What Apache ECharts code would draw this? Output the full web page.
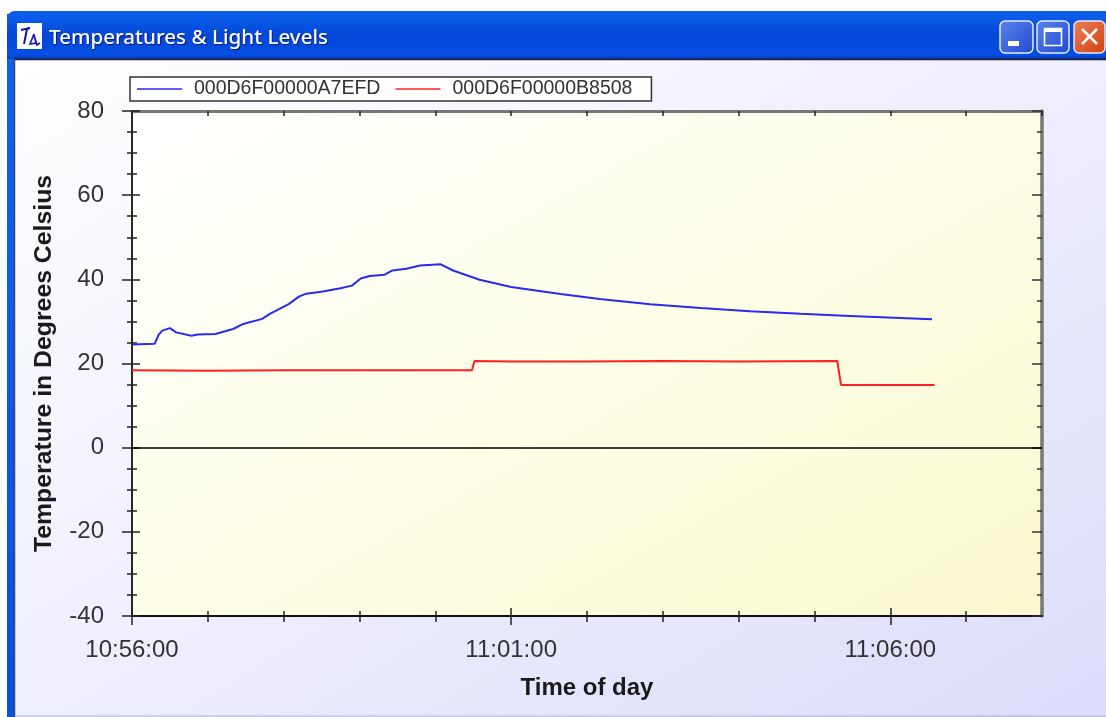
<!DOCTYPE html>
<html>
<head>
<meta charset="utf-8">
<title>Temperatures & Light Levels</title>
<script src="https://cdn.jsdelivr.net/npm/echarts@6/dist/echarts.min.js"></script>
<style>
  html, body { margin: 0; padding: 0; background: #fff; }
  #chart { width: 1106px; height: 717px; }
</style>
</head>
<body>
<div id="chart"></div>
<script>
// seconds after 10:56:00
const blueTimes = [0, 18, 21, 24, 30, 35, 47, 52, 66, 80, 88, 103, 109, 124, 132, 138, 151, 165, 174, 181, 188, 200, 206, 217, 228, 244, 254, 275, 300, 339, 370, 410, 450, 489, 529, 568, 608, 633];
const blueValues = [24.5, 24.7, 26.8, 27.8, 28.4, 27.4, 26.6, 26.9, 27.0, 28.2, 29.4, 30.6, 31.8, 34.1, 35.9, 36.6, 37.1, 37.9, 38.5, 40.2, 40.8, 41.1, 42.1, 42.5, 43.3, 43.6, 42.1, 39.9, 38.2, 36.5, 35.3, 34.1, 33.2, 32.4, 31.8, 31.3, 30.8, 30.5];
const redTimes = [0, 60, 120, 180, 240, 269, 271, 300, 360, 420, 480, 558, 561, 600, 635];
const redValues = [18.4, 18.3, 18.4, 18.4, 18.4, 18.4, 20.6, 20.5, 20.5, 20.6, 20.5, 20.6, 14.9, 14.9, 14.9];
const seriesNames = ['000D6F00000A7EFD', '000D6F00000B8508'];
const labelledTimes = [0, 300, 600];
const windowTitle = 'Temperatures & Light Levels';
const xTitle = 'Time of day';
const yTitle = 'Temperature in Degrees Celsius';
const startClock = [10, 56, 0];

const font = '"Liberation Sans", Arial, sans-serif';

function clockLabel(sec) {
  const total = startClock[0] * 3600 + startClock[1] * 60 + startClock[2] + sec;
  const pad = (n) => String(n).padStart(2, '0');
  return pad(Math.floor(total / 3600)) + ':' + pad(Math.floor(total / 60) % 60) + ':' + pad(total % 60);
}

function zip(a, b) {
  return a.map((v, i) => [v, b[i]]);
}

function grad(x, y, x2, y2, stops) {
  return new echarts.graphic.LinearGradient(x, y, x2, y2, stops.map((c, i) => ({ offset: c[0], color: c[1] })));
}

// window frame around the plot
function windowChrome() {
  const btn = (x, w, top, bottom) => ({
    type: 'rect', z: -5, shape: { x, y: 21, width: w, height: 32, r: 5 },
    style: { fill: grad(0, 0, 1, 1, [[0, top], [1, bottom]]), stroke: '#e6ecfb', lineWidth: 1.5 },
  });
  return [
    { type: 'rect', z: -10, shape: { x: 7, y: 11, width: 1099, height: 706, r: [8, 0, 0, 0] },
      style: { fill: grad(0, 0, 0, 1, [[0, '#0a5ae8'], [0.06, '#0d63ee'], [1, '#0a4fe0']]) } },
    { type: 'rect', z: -9, shape: { x: 7, y: 14, width: 1099, height: 45 },
      style: { fill: grad(0, 0, 0, 1, [[0, '#0c5fec'], [0.5, '#0346d8'], [0.9, '#0450e4'], [1, '#0337b8']]) } },
    { type: 'rect', z: -8, shape: { x: 14, y: 59, width: 1092, height: 658 },
      style: { fill: grad(0, 0, 0.533, 1.467, [[0, '#ffffff'], [0.5, '#eeeefd'], [1, '#dcdcfb']]) } },
    { type: 'line', z: -7, shape: { x1: 14, y1: 59.5, x2: 1106, y2: 59.5 }, style: { stroke: '#202030', lineWidth: 1.5 } },
    { type: 'line', z: -7, shape: { x1: 14.5, y1: 59, x2: 14.5, y2: 717 }, style: { stroke: '#404860', lineWidth: 1.5 } },
    { type: 'line', z: -7, shape: { x1: 15, y1: 716, x2: 1106, y2: 716 }, style: { stroke: '#b4b4cc', lineWidth: 1 } },
    { type: 'rect', z: -6, shape: { x: 17, y: 23, width: 25, height: 26 }, style: { fill: '#ffffff' } },
    { type: 'polyline', z: -5, shape: { points: [[21, 30], [30, 28], [27, 29], [24, 44]] }, style: { fill: 'none', stroke: '#1414b4', lineWidth: 2 } },
    { type: 'polyline', z: -5, shape: { points: [[34, 34], [30, 44], [36, 43], [34, 35], [37, 45], [40, 43]] }, style: { fill: 'none', stroke: '#1414b4', lineWidth: 1.6 } },
    { type: 'text', z: -5, x: 49, y: 38, style: {
      text: windowTitle, fill: '#ffffff', font: '500 20.6px "Noto Sans", sans-serif',
      verticalAlign: 'middle', textShadowColor: '#0a1a80', textShadowBlur: 1, textShadowOffsetX: 1, textShadowOffsetY: 1,
    } },
    btn(1000, 33, '#5d84ea', '#1f48d0'),
    { type: 'rect', z: -4, shape: { x: 1008, y: 41, width: 11, height: 5 }, style: { fill: '#ffffff' } },
    btn(1037, 32, '#5d84ea', '#1f48d0'),
    { type: 'rect', z: -4, shape: { x: 1044.5, y: 28.5, width: 17, height: 17 }, style: { fill: 'none', stroke: '#ffffff', lineWidth: 1.6 } },
    { type: 'rect', z: -4, shape: { x: 1044, y: 28, width: 18, height: 4 }, style: { fill: '#ffffff' } },
    btn(1074, 31, '#ea7f5a', '#d4400f'),
    { type: 'line', z: -4, shape: { x1: 1082, y1: 29, x2: 1097, y2: 44 }, style: { stroke: '#ffffff', lineWidth: 2.5 } },
    { type: 'line', z: -4, shape: { x1: 1097, y1: 29, x2: 1082, y2: 44 }, style: { stroke: '#ffffff', lineWidth: 2.5 } },
  ];
}

const xBase = { type: 'value', min: 0, max: 720, interval: 300, splitLine: { show: false } };
const yBase = { type: 'value', min: -40, max: 80, interval: 20, splitLine: { show: false } };
const hiddenLabel = { show: false };

function ticks(len, inside, color) {
  return { show: true, length: len, inside, lineStyle: { color, width: 1.5 } };
}
function minor(len, n, color) {
  return { show: true, length: len, splitNumber: n, lineStyle: { color, width: 1.5 } };
}

const option = {
  animation: false,
  backgroundColor: 'transparent',
  textStyle: { fontFamily: font },
  graphic: { elements: windowChrome() },
  legend: {
    left: 130, top: 77, width: 521, height: 23,
    padding: [2, 19, 2, 7],
    icon: 'rect', itemWidth: 45, itemHeight: 1.5, itemGap: 15,
    backgroundColor: '#ffffff', borderColor: '#333333', borderWidth: 1.5, borderRadius: 0,
    textStyle: { fontFamily: font, fontSize: 19.5, color: '#333333', padding: [0, 0, 0, 7] },
    data: seriesNames,
  },
  grid: {
    left: 132, right: 64, top: 111, bottom: 101, show: true, borderWidth: 0,
    backgroundColor: grad(0, 0, 0.471, 1.529, [[0, '#ffffff'], [0.5, '#fefee8'], [1, '#f9f8d0']]),
  },
  xAxis: [
    Object.assign({}, xBase, {
      position: 'bottom', name: xTitle, nameLocation: 'middle', nameGap: 60,
      nameTextStyle: { fontFamily: font, fontWeight: 'bold', fontSize: 24, color: '#1a1a1a' },
      axisLine: { show: true, onZero: false, lineStyle: { color: '#111111', width: 2 } },
      axisTick: Object.assign(ticks(9, false, '#222222'), { customValues: labelledTimes }),
      minorTick: minor(6, 5, '#222222'),
      axisLabel: { fontFamily: font, fontSize: 24, color: '#333333', margin: 22, formatter: clockLabel, customValues: labelledTimes },
    }),
    Object.assign({}, xBase, {
      position: 'bottom',
      axisLine: { show: false, onZero: false },
      axisTick: Object.assign(ticks(8, true, '#222222'), { customValues: labelledTimes }),
      minorTick: minor(5, 5, '#222222'), axisLabel: hiddenLabel,
    }),
    Object.assign({}, xBase, {
      position: 'top',
      axisLine: { show: true, onZero: false, lineStyle: { color: '#777777', width: 3 } },
      axisTick: ticks(5, true, '#222222'), minorTick: minor(5, 5, '#222222'), axisLabel: hiddenLabel,
    }),
  ],
  yAxis: [
    Object.assign({}, yBase, {
      position: 'left', name: yTitle, nameLocation: 'middle', nameGap: 75, nameRotate: 90,
      nameTextStyle: { fontFamily: font, fontWeight: 'bold', fontSize: 24.8, color: '#1a1a1a' },
      axisLine: { show: true, onZero: false, lineStyle: { color: '#111111', width: 1.8 } },
      axisTick: ticks(10, false, '#222222'), minorTick: minor(5, 4, '#222222'),
      axisLabel: { fontFamily: font, fontSize: 24, color: '#333333', margin: 28 },
    }),
    Object.assign({}, yBase, {
      position: 'left',
      axisLine: { show: false, onZero: false },
      axisTick: ticks(8, true, '#222222'), minorTick: minor(5, 4, '#222222'), axisLabel: hiddenLabel,
    }),
    Object.assign({}, yBase, {
      position: 'right',
      axisLine: { show: true, onZero: false, lineStyle: { color: '#777777', width: 3.5 } },
      axisTick: ticks(10, true, '#333333'), minorTick: minor(5, 4, '#333333'), axisLabel: hiddenLabel,
    }),
  ],
  series: [
    {
      name: seriesNames[0], type: 'line', showSymbol: false, symbol: 'none',
      xAxisIndex: 0, yAxisIndex: 0,
      data: zip(blueTimes, blueValues),
      lineStyle: { color: '#2a2af0', width: 2 }, itemStyle: { color: '#2a2af0' },
      markLine: {
        silent: true, symbol: 'none', label: { show: false },
        lineStyle: { color: '#000000', width: 1.5, type: 'solid' },
        data: [{ yAxis: 0 }],
      },
    },
    {
      name: seriesNames[1], type: 'line', showSymbol: false, symbol: 'none',
      xAxisIndex: 0, yAxisIndex: 0,
      data: zip(redTimes, redValues),
      lineStyle: { color: '#ff2020', width: 2 }, itemStyle: { color: '#ff2020' },
    },
  ],
};

const chart = echarts.init(document.getElementById('chart'), null, { renderer: 'canvas' });
chart.setOption(option);
</script>
</body>
</html>
